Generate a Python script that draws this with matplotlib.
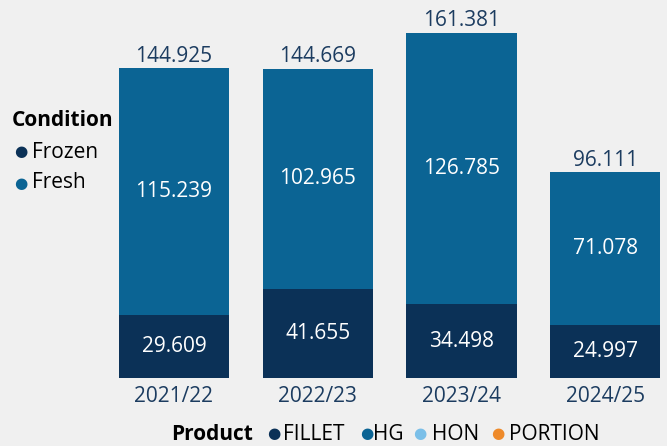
import matplotlib.pyplot as plt
import numpy as np

# ==========================================
# Data
# ==========================================

seasons = ["2021/22", "2022/23", "2023/24", "2024/25"]
frozen = [29.609, 41.655, 34.498, 24.997]
fresh = [115.239, 102.965, 126.785, 71.078]
totals = [144.925, 144.669, 161.381, 96.111]

products = ["FILLET", "HG", "HON", "PORTION"]
product_colors = ["#0B3157", "#0B6494", "#7BBFE8", "#EE8A2A"]

c_frozen = "#0B3157"
c_fresh = "#0B6494"
bg = "#F0F0F0"
txt = "#1C3C60"

plt.rcParams['font.family'] = ['Open Sans', 'DejaVu Sans']

# ==========================================
# Figure
# ==========================================

fig = plt.figure(figsize=(6.67, 4.46), dpi=100, facecolor=bg)
ax = fig.add_axes([102 / 667, (446 - 378) / 446, 565 / 667, 378 / 446])
ax.set_facecolor(bg)

x = np.arange(len(seasons))
w = 0.765

ax.bar(x, frozen, w, color=c_frozen)
ax.bar(x, fresh, w, bottom=frozen, color=c_fresh)

for i in range(len(seasons)):
    ax.text(x[i], frozen[i] / 2, f"{frozen[i]:.3f}", ha="center", va="center",
            color="white", fontsize=15)
    ax.text(x[i], frozen[i] + fresh[i] / 2, f"{fresh[i]:.3f}", ha="center",
            va="center", color="white", fontsize=15)
    ax.text(x[i], totals[i] + 0.6, f"{totals[i]:.3f}", ha="center",
            va="bottom", color=txt, fontsize=15)

ax.set_xlim(-0.5, -0.5 + 565 / 143.8)
ax.set_ylim(0, 176.7)
ax.set_xticks(x)
ax.set_xticklabels(seasons, color=txt, fontsize=15)
ax.tick_params(axis="x", length=0, pad=6)
ax.set_yticks([])
for s in ax.spines.values():
    s.set_visible(False)

# Condition legend
fig.text(12 / 667, 1 - 121 / 446, "Condition", fontsize=15, fontweight="bold",
         color="black", va="center")
for lab, col, yy in [("Frozen", c_frozen, 152), ("Fresh", c_fresh, 183)]:
    fig.text(21 / 667, 1 - yy / 446, "\u25CF", color=col, fontsize=11,
             ha="center", va="center", family=['DejaVu Sans'])
    fig.text(32 / 667, 1 - yy / 446, lab, fontsize=15, color="black",
             va="center")

# Product legend
yb = 1 - 434 / 446
fig.text(171 / 667, yb, "Product", fontsize=15, fontweight="bold",
         color="black", va="center")
dot_x = [274, 367, 420, 498]
lab_x = [283, 373, 432, 509]
for lab, col, dx, lx in zip(products, product_colors, dot_x, lab_x):
    fig.text(dx / 667, yb, "\u25CF", color=col, fontsize=11, ha="center",
             va="center", family=['DejaVu Sans'])
    fig.text(lx / 667, yb, lab, fontsize=15, color="black", va="center")

plt.savefig("out.png", dpi=100, facecolor=bg)
